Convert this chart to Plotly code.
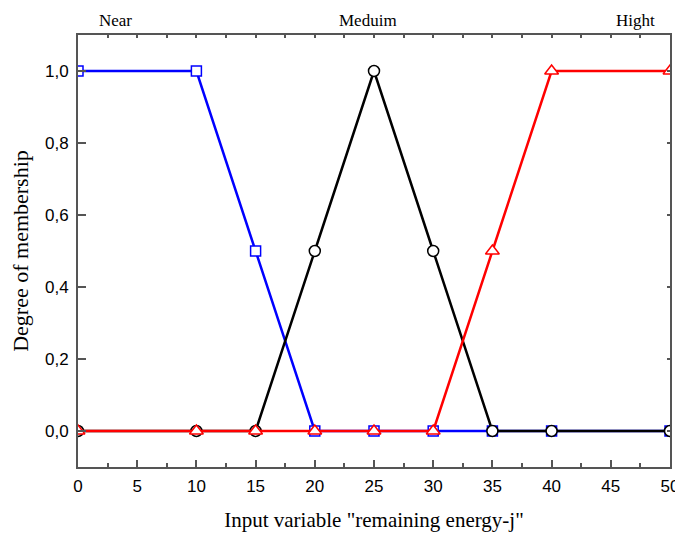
import plotly.graph_objects as go

x_vals = [0, 10, 15, 20, 25, 30, 35, 40, 50]
near = [1, 1, 0.5, 0, 0, 0, 0, 0, 0]
medium = [0, 0, 0, 0.5, 1, 0.5, 0, 0, 0]
high = [0, 0, 0, 0, 0, 0, 0.5, 1, 1]
set_labels = ["Near", "Meduim", "Hight"]
set_label_x = [3.2, 24.5, 47.1]

fig = go.Figure()
fig.add_trace(go.Scatter(x=x_vals, y=near, mode="lines+markers", name="Near",
                         line=dict(color="#0000FF", width=2.5),
                         marker=dict(symbol="square", size=10, color="white",
                                     line=dict(color="#0000FF", width=1.5))))
fig.add_trace(go.Scatter(x=x_vals, y=medium, mode="lines+markers", name="Meduim",
                         line=dict(color="black", width=2.5),
                         marker=dict(symbol="circle", size=11, color="white",
                                     line=dict(color="black", width=1.5))))
fig.add_trace(go.Scatter(x=x_vals, y=high, mode="lines+markers", name="Hight",
                         line=dict(color="#FF0000", width=2.5),
                         marker=dict(symbol="triangle-up", size=12, color="white",
                                     line=dict(color="#FF0000", width=1.5))))
# invisible trace for mirrored axes
fig.add_trace(go.Scatter(x=[0], y=[0], xaxis="x2", yaxis="y2", mode="markers",
                         marker=dict(opacity=0), showlegend=False, hoverinfo="skip"))

for lab, xp in zip(set_labels, set_label_x):
    fig.add_annotation(x=xp, y=1.0, xref="x", yref="paper", yanchor="bottom", yshift=3,
                       text=lab, showarrow=False,
                       font=dict(family="Liberation Serif", size=17, color="black"))

axis_col = "#555555"
# page body has an 8px margin, so the figure is offset by 8px
fig.update_layout(
    width=675, height=525,
    margin=dict(l=70, r=13, t=27, b=66),
    plot_bgcolor="white", paper_bgcolor="white",
    showlegend=False,
    separators=",.",
    xaxis=dict(range=[0, 50], dtick=5, tick0=0, ticks="inside", ticklen=7, tickwidth=1.5,
               tickcolor=axis_col, showline=True, linecolor=axis_col, linewidth=2,
               showgrid=False, zeroline=False, automargin=False, ticklabelstandoff=3,
               minor=dict(dtick=2.5, ticks="inside", ticklen=4, tickcolor=axis_col, tickwidth=1.5),
               tickfont=dict(family="Liberation Sans", size=17, color="black"),
               title=dict(text='Input variable "remaining energy-j"',
                          font=dict(family="Liberation Serif", size=21, color="black"),
                          standoff=17)),
    yaxis=dict(range=[-0.1, 1.1], dtick=0.2, tick0=0, tickformat=".1f",
               ticks="inside", ticklen=8, tickwidth=1.5, tickcolor=axis_col,
               showline=True, linecolor=axis_col, linewidth=2,
               showgrid=False, zeroline=False, automargin=False, ticklabelstandoff=4,
               tickfont=dict(family="Liberation Sans", size=17, color="black"),
               title=dict(text="Degree of membership",
                          font=dict(family="Liberation Serif", size=22, color="black"),
                          standoff=10)),
    xaxis2=dict(range=[0, 50], overlaying="x", side="top", dtick=2.5, tick0=0,
                ticks="inside", ticklen=3, tickwidth=1.5, tickcolor=axis_col,
                showticklabels=False, showline=True, linecolor=axis_col, linewidth=2,
                showgrid=False, zeroline=False, automargin=False),
    yaxis2=dict(range=[-0.1, 1.1], overlaying="y", side="right", dtick=0.2, tick0=0,
                ticks="inside", ticklen=3, tickwidth=1.5, tickcolor=axis_col,
                showticklabels=False, showline=True, linecolor=axis_col, linewidth=2,
                showgrid=False, zeroline=False, automargin=False),
)

fig.write_html("out.html")
